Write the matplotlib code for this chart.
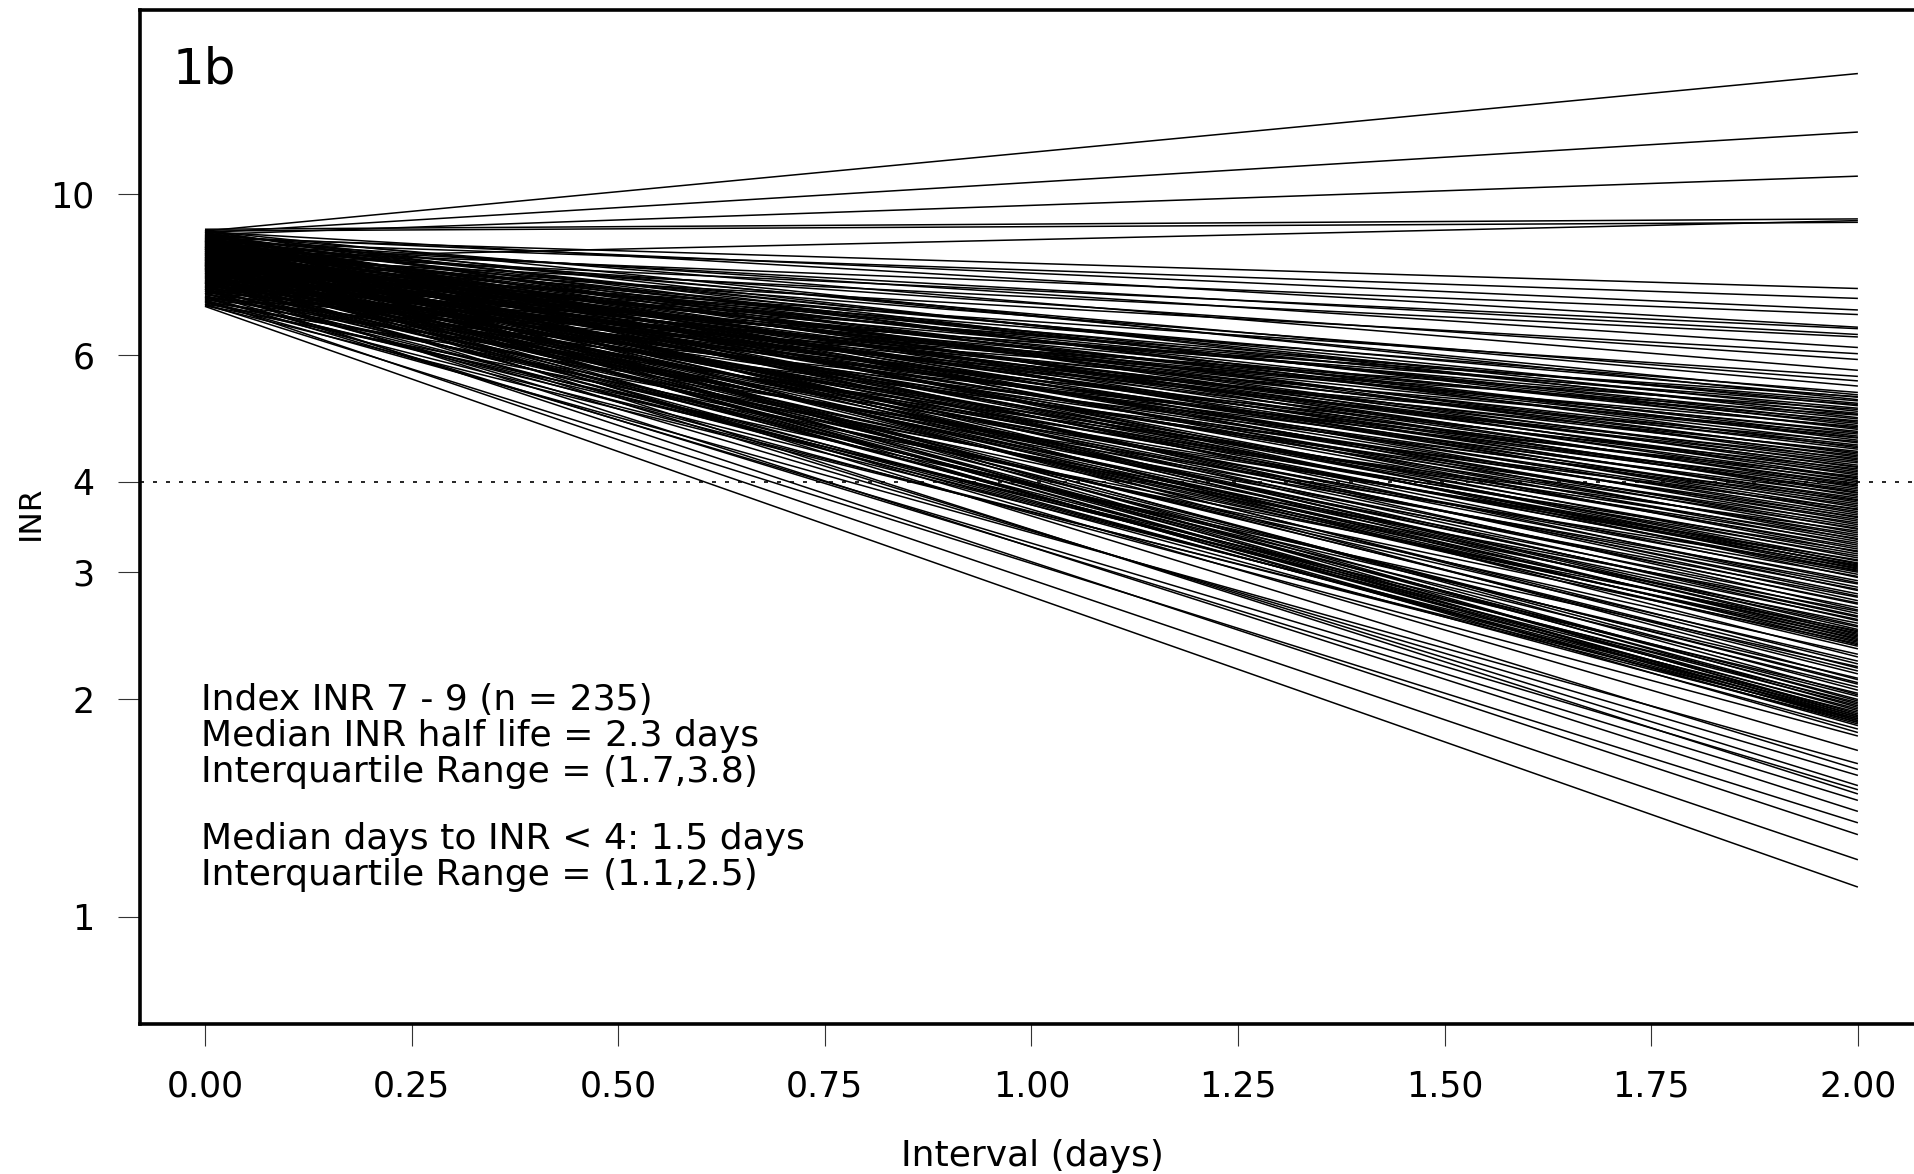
import numpy as np
import matplotlib
matplotlib.use("Agg")
import matplotlib.pyplot as plt

# INR at day 0 and day 2 for each patient (index INR 7 - 9)
end_inr = [
    14.7, 12.2, 10.6, 9.25, 9.2, 9.15, 7.41, 7.18, 6.92, 6.82,
    6.55, 6.52, 6.40, 6.35, 6.14, 6.02, 5.91, 5.71, 5.60, 5.52,
    5.43, 5.32,
    5.28, 5.25, 5.24, 5.20, 5.18, 5.14, 5.12, 5.10, 5.06, 5.04,
    5.01, 4.98, 4.96, 4.95, 4.91, 4.89, 4.86, 4.84, 4.82, 4.79,
    4.77, 4.75, 4.73, 4.70, 4.68, 4.66, 4.63, 4.61, 4.60, 4.57,
    4.55, 4.53, 4.50, 4.48, 4.46, 4.44, 4.41, 4.39, 4.37, 4.35,
    4.33, 4.31, 4.29, 4.27, 4.25, 4.22, 4.20, 4.19, 4.17, 4.15,
    4.13, 4.11, 4.09, 4.07, 4.05, 4.04, 4.02,
    4.00, 3.98, 3.96, 3.95, 3.93, 3.91, 3.89, 3.87, 3.86, 3.84,
    3.82, 3.80, 3.78, 3.77, 3.75, 3.73, 3.71, 3.69, 3.67, 3.66,
    3.64, 3.62, 3.60, 3.58, 3.57, 3.55, 3.53, 3.51, 3.49, 3.47,
    3.45, 3.44, 3.42, 3.40, 3.38, 3.36, 3.34, 3.33, 3.31, 3.29,
    3.27, 3.25, 3.23, 3.21, 3.20, 3.18, 3.16, 3.14, 3.12, 3.11,
    3.09, 3.08, 3.07, 3.06, 3.05, 3.04, 3.03, 3.02, 3.01, 3.00,
    2.98, 2.96, 2.95, 2.92, 2.90, 2.89, 2.86, 2.84, 2.83, 2.80,
    2.78, 2.77, 2.74, 2.72, 2.71, 2.68, 2.66, 2.65, 2.63, 2.61,
    2.60, 2.58, 2.57, 2.55, 2.53, 2.52, 2.50, 2.49, 2.48, 2.47,
    2.46, 2.45, 2.44, 2.43, 2.42, 2.41, 2.40, 2.39, 2.38, 2.37,
    2.35, 2.31, 2.29, 2.26, 2.24, 2.22, 2.21, 2.19, 2.17, 2.14,
    2.13, 2.11, 2.10, 2.08, 2.06, 2.04, 2.03, 2.02, 2.00, 1.99,
    1.98, 1.97, 1.96, 1.95, 1.94, 1.93, 1.92, 1.91, 1.90, 1.90,
    1.89, 1.89, 1.88, 1.88, 1.87, 1.87, 1.86, 1.86, 1.85, 1.84,
    1.82, 1.80, 1.78, 1.70, 1.63, 1.60, 1.57, 1.52, 1.50, 1.48,
    1.45, 1.40, 1.35, 1.30, 1.20, 1.10,
]

start_inr = [
    8.90, 8.85, 8.80, 8.95, 8.15, 8.90, 8.70, 8.60, 8.75, 8.40,
    8.88, 8.30, 8.55, 8.20, 8.65, 8.10, 8.45, 8.80, 7.95, 8.35,
    8.60, 8.05,
    8.72, 7.45, 8.31, 8.90, 7.88, 8.12, 7.62, 8.55, 8.03, 7.30,
    8.66, 7.95, 8.41, 7.18, 8.84, 8.22, 7.71, 8.47, 7.99, 8.60,
    7.54, 8.35, 8.78, 7.83, 8.09, 7.41, 8.52, 8.17, 7.92, 8.69,
    7.26, 8.44, 8.01, 7.77, 8.88, 8.27, 7.59, 8.13, 8.57, 7.86,
    8.38, 7.50, 8.74, 8.06, 7.68, 8.49, 7.97, 8.20, 7.36, 8.63,
    8.11, 7.80, 8.42, 7.15, 8.81, 8.25, 7.65, 8.54, 7.93, 8.33,
    7.47, 8.70, 8.02, 7.74, 8.46, 8.18, 7.57, 8.92, 7.90, 8.29,
    7.38, 8.61, 8.07, 7.82, 8.50, 7.22, 8.37, 7.96, 8.76, 8.14,
    7.63, 8.43, 7.89, 8.23, 7.52, 8.67, 8.00, 7.70, 8.39, 7.10,
    8.58, 7.85, 8.28, 7.44, 8.83,
    8.16, 7.58, 8.64, 7.91, 8.36, 7.33, 8.79, 8.04, 7.66, 8.48,
    7.20, 8.26, 7.87, 8.56, 7.49, 8.10, 8.71, 7.78, 8.32, 7.05,
    8.45, 7.94, 8.19, 7.61, 8.87, 7.84, 8.40, 7.28, 8.08, 7.73,
    8.62, 7.98, 8.24, 7.42, 8.53, 7.81, 8.15, 7.56, 8.73, 7.12,
    8.34, 7.90, 8.05, 7.67, 8.51, 7.35, 8.21, 7.79, 8.44, 7.02,
    8.30, 7.60, 8.68, 7.92, 8.11, 7.46, 8.59, 7.76, 8.00, 7.24,
    8.41, 7.86, 8.18, 7.53, 8.77, 7.69, 8.27, 7.08, 8.47, 7.97,
    8.13, 7.39, 8.65, 7.83, 8.02, 7.55, 8.35, 7.17, 8.50, 7.72,
    7.95, 8.40, 7.30, 8.15, 7.65, 8.55, 7.48, 8.05, 7.20, 8.30,
    7.78, 8.62, 7.40, 8.10, 7.02, 7.88, 8.45, 7.55, 8.20, 7.12,
    7.70, 8.00,
    7.60, 8.25, 7.35, 7.90, 7.10, 8.05, 7.45, 7.75, 7.22, 7.98,
    7.30, 7.55, 7.05, 7.40, 7.15, 7.00,
]

assert len(start_inr) == 235 and len(end_inr) == 235

days = [0, 2]
x_ticks = [0.00, 0.25, 0.50, 0.75, 1.00, 1.25, 1.50, 1.75, 2.00]
y_ticks = [1, 2, 3, 4, 6, 10]
threshold = 4

note_lines = [
    "Index INR 7 - 9 (n = 235)",
    "Median INR half life = 2.3 days",
    "Interquartile Range = (1.7,3.8)",
    "Median days to INR < 4: 1.5 days",
    "Interquartile Range = (1.1,2.5)",
]
note_y = [0.3097, 0.2742, 0.2387, 0.1726, 0.1371]

plt.rcParams['font.family'] = ['DejaVu Sans']

fig = plt.figure(figsize=(19.14, 11.74), dpi=100)
ax = fig.add_axes([0.07315, 0.12777, 0.93208, 0.86371])

# one line per patient, straight on the log scale
for s, e in zip(start_inr, end_inr):
    ax.plot(days, [s, e], color='black', lw=1.1, solid_capstyle='butt')

ax.axhline(threshold, color='black', lw=1.2, dashes=(2.4, 5.4))

ax.set_yscale('log')
ax.set_xlim(-0.0786, 2.08)
ax.set_ylim(0.711, 18.0)

ax.set_yticks(y_ticks)
ax.set_yticklabels([str(t) for t in y_ticks])
ax.yaxis.set_minor_locator(matplotlib.ticker.NullLocator())
ax.set_xticks(x_ticks)
ax.set_xticklabels(['%.2f' % t for t in x_ticks])

ax.tick_params(axis='both', direction='out', length=15.5, width=0.8,
               color='#333333', labelsize=25, pad=17)

for side in ['left', 'top', 'bottom']:
    ax.spines[side].set_linewidth(2.6)
ax.spines['right'].set_visible(False)

ax.set_xlabel('Interval (days)', fontsize=26)
ax.xaxis.set_label_coords(0.5, -0.113)
ax.set_ylabel('INR', fontsize=22.5)
ax.yaxis.label.set_va('center')
ax.yaxis.set_label_coords(-0.0617, 0.504)

ax.text(0.0185, 0.928, '1b', transform=ax.transAxes, fontsize=36,
        va='baseline', ha='left')

for txt, yy in zip(note_lines, note_y):
    ax.text(0.034, yy, txt, transform=ax.transAxes, fontsize=26,
            va='baseline', ha='left')

fig.savefig('out.png', dpi=100)
